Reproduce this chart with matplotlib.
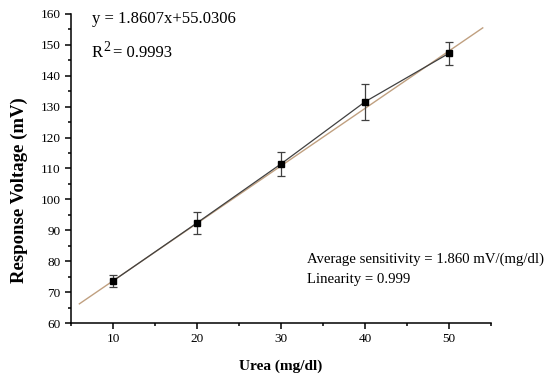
import matplotlib
matplotlib.use("Agg")
import matplotlib.pyplot as plt
import numpy as np
from matplotlib.ticker import MultipleLocator

plt.rcParams['font.family'] = ['Liberation Serif', 'DejaVu Serif']
plt.rcParams['mathtext.fontset'] = 'stix'

urea = [10, 20, 30, 40, 50]
voltage = [73.6, 92.4, 111.5, 131.6, 147.3]
error = [2.0, 3.5, 3.8, 5.9, 3.7]
slope = 1.8607
intercept = 55.0306
fit_range = [6, 54]

fig = plt.figure(figsize=(5.5, 3.78), dpi=100)
ax = fig.add_axes([0.129, 0.1455, 0.764, 0.8175])

xf = np.array(fit_range)
ax.plot(xf, slope * xf + intercept, color='#c0a080', lw=1.0, zorder=2)
ax.errorbar(urea, voltage, yerr=error, fmt='s-', color='#404040', mfc='black', mec='black',
            ms=5, lw=0.9, elinewidth=0.9, ecolor='#404040', capsize=3, capthick=0.9, zorder=3)

ax.set_xlim(5, 55)
ax.set_ylim(60, 160)
ax.xaxis.set_major_locator(MultipleLocator(10))
ax.xaxis.set_minor_locator(MultipleLocator(5))
ax.yaxis.set_major_locator(MultipleLocator(10))
ax.yaxis.set_minor_locator(MultipleLocator(5))
ax.spines['top'].set_visible(False)
ax.spines['right'].set_visible(False)
for s in ('left', 'bottom'):
    ax.spines[s].set_linewidth(1.1)
ax.tick_params(which='both', direction='out', labelsize=9.5, width=1.1)
ax.tick_params(which='major', length=4)
ax.tick_params(which='minor', length=2.5)
ax.set_xticks([10, 20, 30, 40, 50])

ax.set_xlabel('Urea (mg/dl)', fontsize=11, fontweight='bold', labelpad=10)
ax.set_ylabel('Response Voltage (mV)', fontsize=13.5, fontweight='bold')
ax.yaxis.set_label_coords(-0.124, 0.43)
ax.yaxis.label.set_va('center')

ax.text(0.05, 0.97, 'y = 1.8607x+55.0306', transform=ax.transAxes, fontsize=12, va='baseline')
ax.text(0.05, 0.861, 'R', transform=ax.transAxes, fontsize=12, va='baseline')
ax.text(0.077, 0.88, '2', transform=ax.transAxes, fontsize=10, va='baseline')
ax.text(0.101, 0.861, '= 0.9993', transform=ax.transAxes, fontsize=12, va='baseline')
ax.text(0.562, 0.195, 'Average sensitivity = 1.860 mV/(mg/dl)', transform=ax.transAxes, fontsize=10.6, va='baseline')
ax.text(0.562, 0.130, 'Linearity = 0.999', transform=ax.transAxes, fontsize=10.6, va='baseline')

fig.savefig('out.png', dpi=100)
